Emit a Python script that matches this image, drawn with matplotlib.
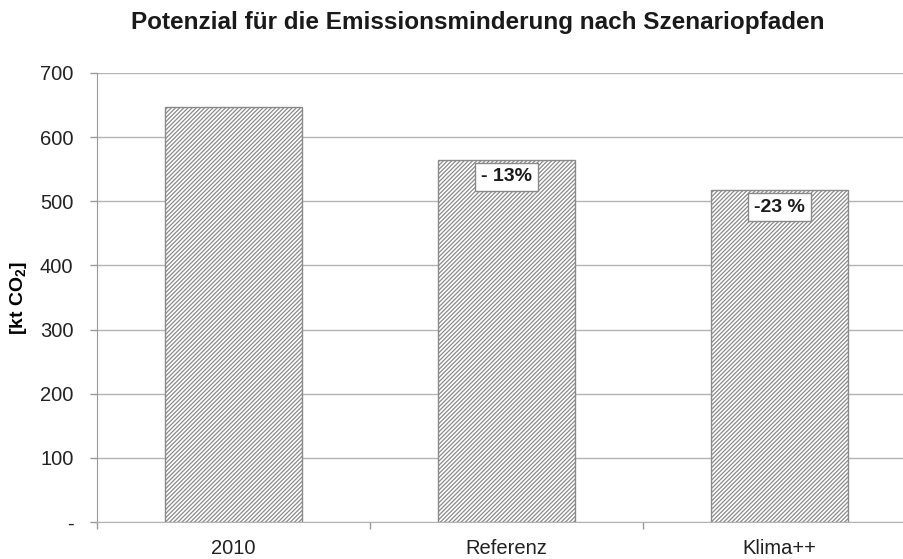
import matplotlib
matplotlib.use("Agg")
import matplotlib.pyplot as plt

categories = ["2010", "Referenz", "Klima++"]
values = [647, 565, 518]
labels = [None, "- 13%", "-23 %"]
yticks = [0, 100, 200, 300, 400, 500, 600, 700]
yticklabels = ["-", "100", "200", "300", "400", "500", "600", "700"]

plt.rcParams['font.family'] = ['Liberation Sans', 'DejaVu Sans']
plt.rcParams['hatch.color'] = '#8a8a8a'
plt.rcParams['hatch.linewidth'] = 0.9

W, H = 904, 559
fig = plt.figure(figsize=(W/100, H/100), dpi=100)
ax = fig.add_axes([97/W, 1-522/H, (916-97)/W, (522-73)/H])

x = list(range(len(categories)))
ax.bar(x, values, width=0.5, facecolor='white', edgecolor='#8a8a8a',
       hatch='////////', linewidth=1.0, zorder=3)

for xi, v, lab in zip(x, values, labels):
    if lab:
        ax.annotate(lab, (xi, v), xytext=(0, -12.5), textcoords='offset points',
                    ha='center', va='center', fontsize=14, fontweight='bold',
                    color='#1a1a1a', zorder=5,
                    bbox=dict(boxstyle='square,pad=0.3', facecolor='white',
                              edgecolor='#8a8a8a', linewidth=1.0))

ax.set_xlim(-0.5, 2.5)
ax.set_ylim(0, 700)
ax.set_yticks(yticks)
ax.set_yticklabels(yticklabels, fontsize=14.5, color='#222222')
ax.yaxis.grid(True, color='#b4b4b4', linewidth=1.0, zorder=0)
ax.set_axisbelow(True)

ax.set_xticks(x)
ax.set_xticklabels(categories, fontsize=14.5, color='#222222')
ax.set_xticks([-0.5, 0.5, 1.5, 2.5], minor=True)
ax.tick_params(axis='x', which='major', length=0, pad=12)
ax.tick_params(axis='x', which='minor', length=5, color='#999999', width=1.0)
ax.tick_params(axis='y', length=5, color='#999999', width=1.0, pad=12)

for s in ['top', 'right']:
    ax.spines[s].set_visible(False)
ax.spines['left'].set_color('#999999')
ax.spines['bottom'].set_color('#b4b4b4')

ax.set_ylabel('[kt CO$_\\mathregular{2}$]', fontsize=14, fontweight='bold', labelpad=8)

fig.text(478/W, 1-22/H, 'Potenzial für die Emissionsminderung nach Szenariopfaden',
         ha='center', va='center', fontsize=17.5, fontweight='bold', color='#1a1a1a')

fig.savefig('out.png', dpi=100)
